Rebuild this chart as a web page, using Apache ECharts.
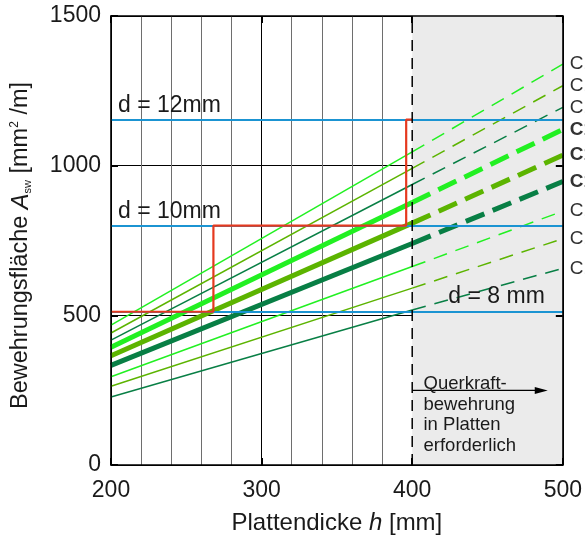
<!DOCTYPE html>
<html>
<head>
<meta charset="utf-8">
<script src="https://cdn.jsdelivr.net/npm/echarts@6/dist/echarts.min.js"></script>
<style>
  html, body { margin: 0; padding: 0; background: #fff; }
  #chart { width: 585px; height: 540px; }
</style>
</head>
<body>
<div id="chart"></div>
<script>
// Plate thickness h [mm] at which each design line is sampled
const thickness = [200, 400, 500];

// Required shear reinforcement A_sw [mm²/m] at the thicknesses above
const lineValues = [
  [467, 1046, 1339],
  [441, 991, 1267],
  [417, 937, 1195],
  [393, 877, 1121],
  [365, 808, 1035],
  [333, 740, 947],
  [295, 663, 848],
  [263, 591, 756],
  [227, 518, 657]
];
const lineLabels = ['C12/15', 'C16/20', 'C12/15', 'C12/15', 'C16/20', 'C12/15', 'C12/15', 'C16/20', 'C12/15'];

// Reinforcement provided by bar diameter d
const barLevels = [512, 800, 1154];
const barLabels = ['d = 8 mm', 'd = 10mm', 'd = 12mm'];

// Chosen reinforcement (step curve)
const stepX = [200, 268, 268, 396, 396, 400];
const stepY = [512, 512, 800, 800, 1154, 1154];

// Range where shear reinforcement is required in slabs
const shadedRange = [400, 500];
const noteText = ['Querkraft-', 'bewehrung', 'in Platten', 'erforderlich'];
const noteAnchor = [407.5, 305];
const arrowY = 249;
const arrowEndX = 490;

// Axis scales
const xMin = 200, xMax = 500, xStep = 100;
const yMin = 0, yMax = 1500, yStep = 500;

// Styles
const FONT = 'Liberation Sans, Arial, sans-serif';
const TEXT = '#1a1a1a';
const palette = ['#22f022', '#5cb400', '#087f45'];
const thickRows = [3, 4, 5];

const chart = echarts.init(document.getElementById('chart'), null, { renderer: 'canvas' });

const frameAxis = (pos) => {
  const horiz = pos === 'top' || pos === 'bottom';
  return {
    type: 'value', position: pos,
    min: horiz ? xMin : yMin, max: horiz ? xMax : yMax, interval: horiz ? xStep : yStep,
    z: 10,
    axisLine: { show: true, onZero: false, lineStyle: { color: '#000', width: 1.6 } },
    axisTick: { show: true, inside: true, length: 7, lineStyle: { color: '#000', width: 2 } },
    axisLabel: { show: false },
    splitLine: { show: false }
  };
};

const series = [];

// shaded region
series.push({
  type: 'line', xAxisIndex: 0, yAxisIndex: 0, z: 1,
  data: [[shadedRange[0], yMin], [shadedRange[1], yMin]],
  showSymbol: false, lineStyle: { opacity: 0 }, silent: true,
  markArea: {
    silent: true,
    itemStyle: { color: '#ebebeb' },
    data: [[{ xAxis: shadedRange[0] }, { xAxis: shadedRange[1] }]]
  }
});

// bar-diameter levels
series.push({
  type: 'line', z: 3, data: [], silent: true,
  markLine: {
    silent: true, symbol: ['none', 'none'], animation: false,
    lineStyle: { color: '#1b94d2', width: 2.2, type: 'solid' },
    data: barLevels.map((v, i) => ({
      yAxis: v,
      label: {
        show: true, formatter: barLabels[i],
        position: i === 0 ? 'insideEndTop' : 'insideStartTop',
        distance: i === 0 ? [18, 4] : [7, 2],
        fontSize: 23, color: TEXT, fontFamily: FONT
      }
    }))
  }
});

// design lines: solid up to 400 mm, dashed beyond
lineValues.forEach((vals, i) => {
  const thick = thickRows.indexOf(i) >= 0;
  const color = palette[i % 3];
  const width = thick ? 5 : 1.5;
  series.push({
    type: 'line', z: 4, showSymbol: false, silent: true,
    data: [[thickness[0], vals[0]], [thickness[1], vals[1]]],
    lineStyle: { color, width, cap: 'butt' }
  });
  series.push({
    type: 'line', z: 4, showSymbol: false, silent: true,
    data: [[thickness[1], vals[1]], [thickness[2], vals[2]]],
    lineStyle: { color, width, type: thick ? [20, 9] : [14, 9], cap: 'butt' },
    endLabel: {
      show: true, formatter: lineLabels[i], distance: 7,
      fontSize: 19, fontWeight: thick ? 'bold' : 'normal', color: '#333', fontFamily: FONT
    }
  });
});

// chosen reinforcement
series.push({
  type: 'line', z: 5, showSymbol: false, silent: true,
  data: stepX.map((x, i) => [x, stepY[i]]),
  lineStyle: { color: '#e5391f', width: 2.2 }
});

// boundary at 400 mm
series.push({
  type: 'line', z: 5, showSymbol: false, silent: true,
  data: [[shadedRange[0], yMin], [shadedRange[0], yMax]],
  lineStyle: { color: '#000', width: 1.5, type: [11, 7] }
});

chart.setOption({
  animation: false,
  grid: { left: 111, right: 21, top: 16, bottom: 71, containLabel: false },
  xAxis: [
    {
      type: 'value', position: 'bottom', min: xMin, max: xMax, interval: xStep,
      name: 'Plattendicke {it|h} [mm]', nameLocation: 'middle', nameGap: 46,
      nameTextStyle: {
        fontSize: 24, color: TEXT, fontFamily: FONT,
        rich: { it: { fontSize: 24, fontStyle: 'italic', color: TEXT, fontFamily: FONT } }
      },
      axisLine: { show: false }, axisTick: { show: false },
      axisLabel: { fontSize: 23, color: TEXT, fontFamily: FONT, margin: 14, formatter: (v) => String(v) },
      splitLine: { show: true, lineStyle: { color: ['#000', '#000', 'rgba(0,0,0,0)', '#000'], width: 1 } },
      minorTick: { show: false, splitNumber: 5 },
      minorSplitLine: { show: true, lineStyle: { color: '#6e6e6e', width: 1 } }
    },
    frameAxis('top'),
    frameAxis('bottom')
  ],
  yAxis: [
    {
      type: 'value', position: 'left', min: yMin, max: yMax, interval: yStep,
      name: 'Bewehrungsfläche {it|A}{sub|sw} [mm{sup|2} /m]',
      nameLocation: 'middle', nameGap: 78, nameRotate: 90,
      nameTextStyle: {
        fontSize: 23.5, color: TEXT, fontFamily: FONT, padding: [0, 10, 0, 0],
        rich: {
          it: { fontSize: 23.5, fontStyle: 'italic', color: TEXT, fontFamily: FONT },
          sub: { fontSize: 11, verticalAlign: 'bottom', color: TEXT, fontFamily: FONT },
          sup: { fontSize: 12, verticalAlign: 'top', color: TEXT, fontFamily: FONT }
        }
      },
      axisLine: { show: false }, axisTick: { show: false },
      axisLabel: { fontSize: 23, color: TEXT, fontFamily: FONT, margin: 10, formatter: (v) => String(v) },
      splitLine: { show: true, lineStyle: { color: '#000', width: 1 } }
    },
    frameAxis('right'),
    frameAxis('left')
  ],
  series
});

// note text and arrow, anchored in data coordinates inside the shaded range
const p = chart.convertToPixel({ gridIndex: 0 }, noteAnchor);
const a0 = chart.convertToPixel({ gridIndex: 0 }, [shadedRange[0], arrowY]);
const a1 = chart.convertToPixel({ gridIndex: 0 }, [arrowEndX, arrowY]);
chart.setOption({
  graphic: [
    {
      type: 'line', z: 20, silent: true,
      shape: { x1: a0[0], y1: a0[1], x2: a1[0] - 8, y2: a1[1] },
      style: { stroke: '#000', lineWidth: 1.2 }
    },
    {
      type: 'polygon', z: 20, silent: true,
      shape: { points: [[a1[0], a1[1]], [a1[0] - 13, a1[1] - 3.5], [a1[0] - 13, a1[1] + 3.5]] },
      style: { fill: '#000' }
    },
    {
      type: 'text', x: p[0], y: p[1], z: 20, silent: true,
      style: {
        text: noteText.join('\n'), fontSize: 18.5, lineHeight: 20.5,
        fill: TEXT, fontFamily: FONT, align: 'left', verticalAlign: 'top'
      }
    }
  ]
});
</script>
</body>
</html>
